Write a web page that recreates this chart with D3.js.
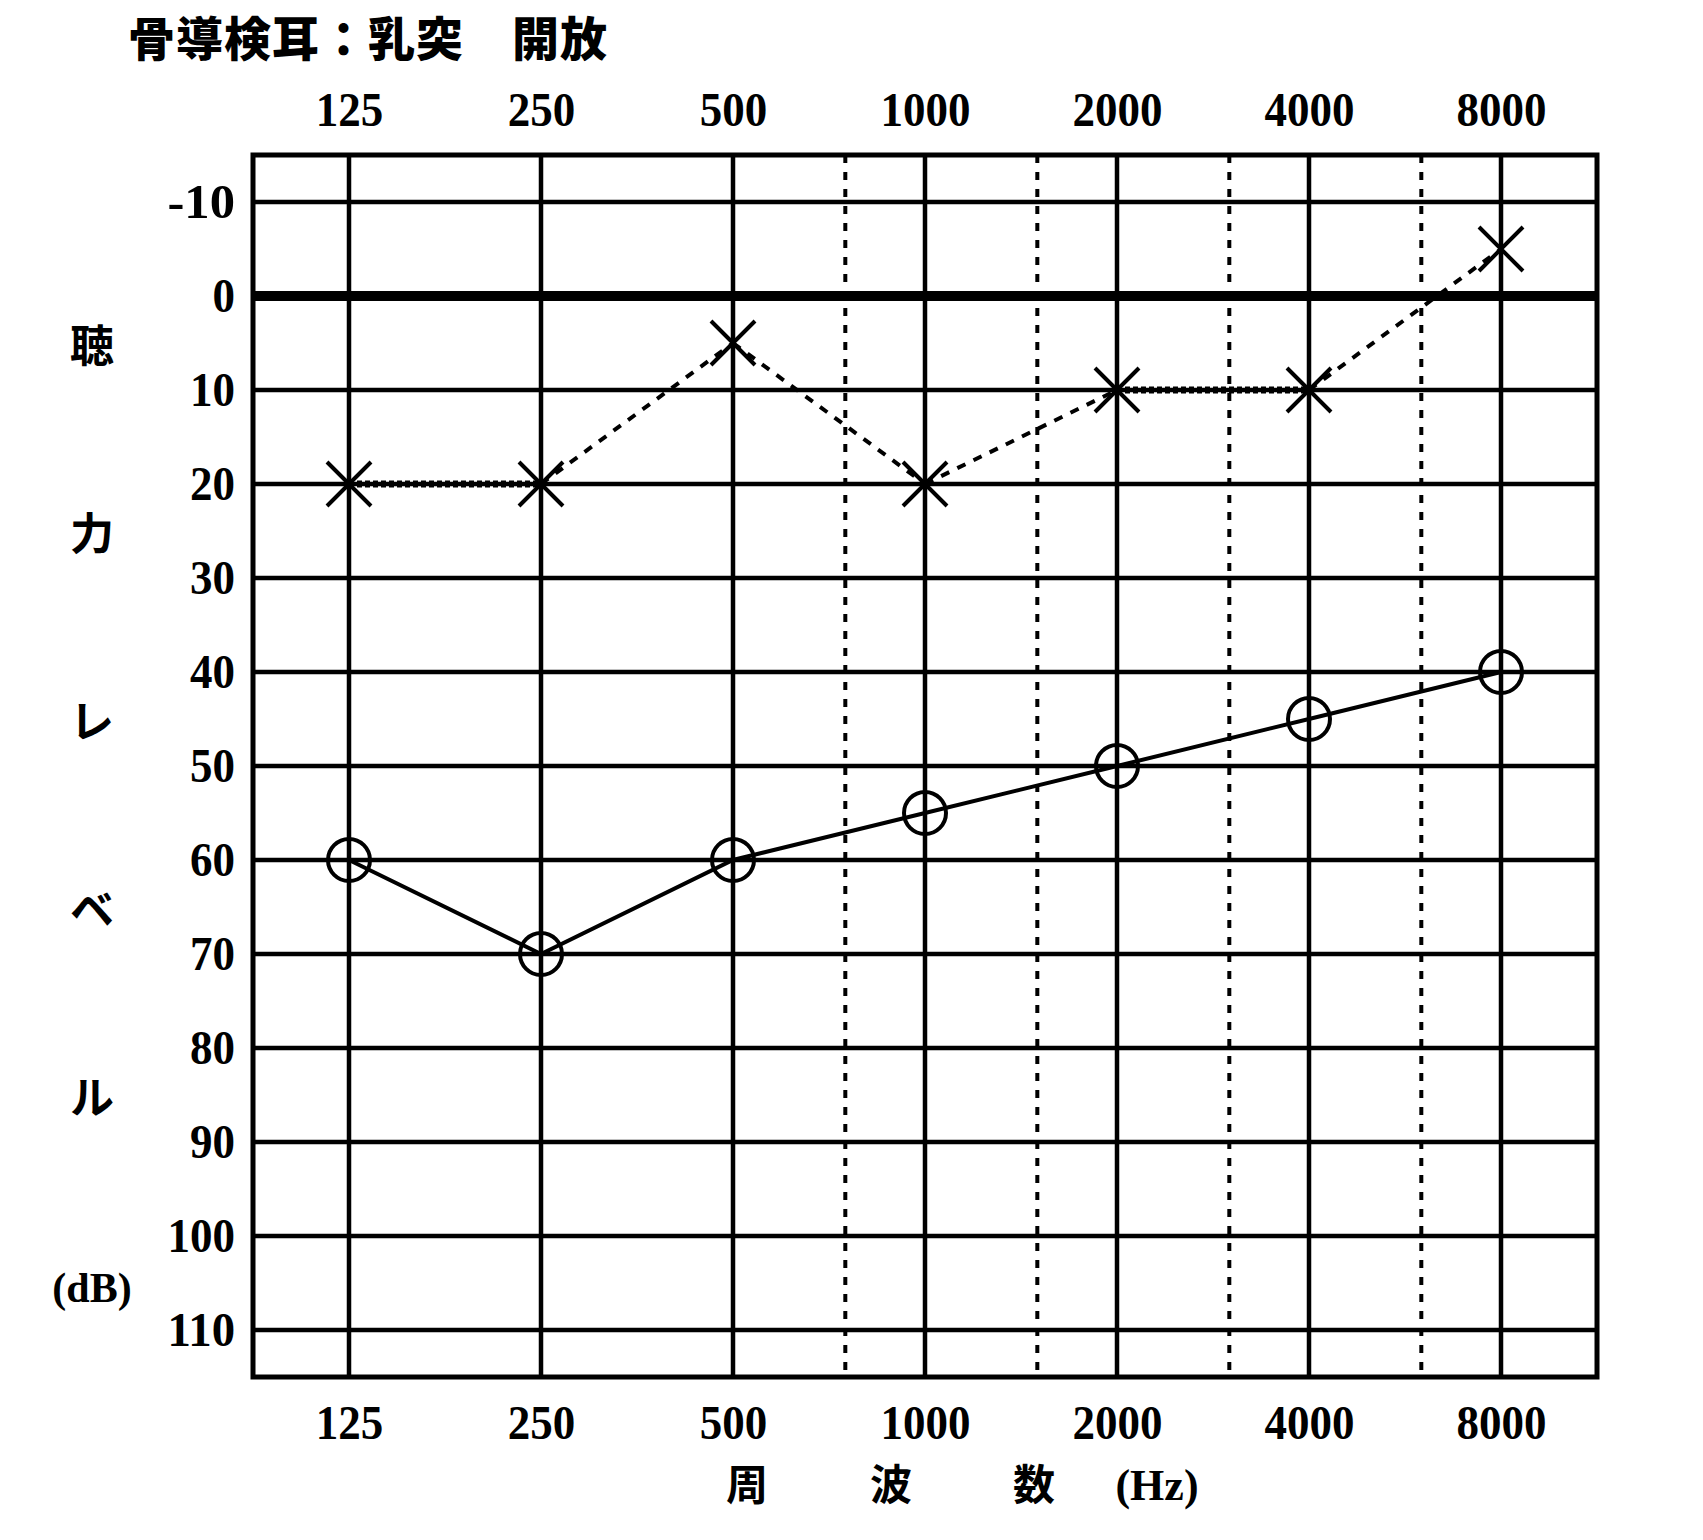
<!DOCTYPE html>
<html><head><meta charset="utf-8">
<script src="https://cdn.jsdelivr.net/npm/d3@7"></script>
<style>
html,body{margin:0;padding:0;background:#fff;}
svg{display:block;}
</style></head>
<body>
<svg id="c" width="1703" height="1540"></svg>
<script>
const freqs = [125, 250, 500, 1000, 2000, 4000, 8000];
const freqLabels = ["125", "250", "500", "1000", "2000", "4000", "8000"];
const halfOctaves = [750, 1500, 3000, 6000];
const levelTicks = [-10, 0, 10, 20, 30, 40, 50, 60, 70, 80, 90, 100, 110];
const boneLevels = [20, 20, 5, 20, 10, 10, -5];   // × bone conduction
const airLevels = [60, 70, 60, 55, 50, 45, 40];   // ○ air conduction
const titleText = "骨導検耳：乳突　開放";
const yTitleChars = ["聴", "力", "レ", "ベ", "ル", "(dB)"];
const xTitleParts = ["周", "波", "数", "(Hz)"];

const svg = d3.select("#c");
const L = 253, R = 1597, T = 155, B = 1377;
const x = d3.scaleLog().domain([125 / Math.SQRT2, 8000 * Math.SQRT2]).range([L, R]);
const y = d3.scaleLinear().domain([-15, 115]).range([T, B]);
const numFont = "'Liberation Serif','DejaVu Serif',serif";
const jpFont = "'Noto Sans CJK JP','Noto Sans CJK SC',sans-serif";

// dotted half-octave lines
svg.append("g").selectAll("line").data(halfOctaves).join("line")
  .attr("x1", d => x(d)).attr("x2", d => x(d)).attr("y1", T).attr("y2", B)
  .attr("stroke", "#000").attr("stroke-width", 4).attr("stroke-dasharray", "8,9");

// horizontal grid
svg.append("g").selectAll("line").data(levelTicks).join("line")
  .attr("x1", L).attr("x2", R).attr("y1", d => y(d)).attr("y2", d => y(d))
  .attr("stroke", "#000").attr("stroke-width", d => d === 0 ? 10 : 4.5);

// vertical grid
svg.append("g").selectAll("line").data(freqs).join("line")
  .attr("x1", d => x(d)).attr("x2", d => x(d)).attr("y1", T).attr("y2", B)
  .attr("stroke", "#000").attr("stroke-width", 4.5);

// frame
svg.append("rect").attr("x", L).attr("y", T).attr("width", R - L).attr("height", B - T)
  .attr("fill", "none").attr("stroke", "#000").attr("stroke-width", 5);

// axes (labels only)
function styleNums(g) {
  g.select(".domain").remove();
  g.selectAll("text").attr("font-family", numFont).attr("font-size", 48)
    .attr("font-weight", 700)
    .attr("fill", "#000").attr("lengthAdjust", "spacingAndGlyphs")
    .attr("textLength", function () { return this.textContent.length * 22.5; });
}
svg.append("g").attr("transform", `translate(0,${T})`)
  .call(d3.axisTop(x).tickValues(freqs).tickFormat((d, i) => freqLabels[i]).tickSize(0).tickPadding(29))
  .call(styleNums);
svg.append("g").attr("transform", `translate(0,${B})`)
  .call(d3.axisBottom(x).tickValues(freqs).tickFormat((d, i) => freqLabels[i]).tickSize(0).tickPadding(28))
  .call(styleNums);
svg.append("g").attr("transform", `translate(${L},0)`)
  .call(d3.axisLeft(y).tickValues(levelTicks).tickFormat(d => String(d)).tickSize(0).tickPadding(18))
  .call(styleNums);

// bone conduction dashed connections
for (let i = 0; i < freqs.length - 1; i++) {
  const flat = boneLevels[i] === boneLevels[i + 1];
  svg.append("line")
    .attr("x1", x(freqs[i])).attr("y1", y(boneLevels[i]))
    .attr("x2", x(freqs[i + 1])).attr("y2", y(boneLevels[i + 1]))
    .attr("stroke", "#000").attr("stroke-width", flat ? 7 : 4)
    .attr("stroke-dasharray", flat ? "5,3" : "9,9");
}
// air conduction solid line
svg.append("path")
  .datum(freqs.map((f, i) => [f, airLevels[i]]))
  .attr("d", d3.line().x(d => x(d[0])).y(d => y(d[1])))
  .attr("fill", "none").attr("stroke", "#000").attr("stroke-width", 4);

// markers
svg.append("g").selectAll("circle").data(airLevels).join("circle")
  .attr("cx", (d, i) => x(freqs[i])).attr("cy", d => y(d)).attr("r", 21)
  .attr("fill", "none").attr("stroke", "#000").attr("stroke-width", 4);
const s = 22;
svg.append("g").selectAll("path").data(boneLevels).join("path")
  .attr("d", (d, i) => {
    const cx = x(freqs[i]), cy = y(d);
    return `M${cx - s},${cy - s}L${cx + s},${cy + s}M${cx - s},${cy + s}L${cx + s},${cy - s}`;
  })
  .attr("stroke", "#000").attr("stroke-width", 4);

// title
svg.append("text").attr("x", 128).attr("y", 56).text(titleText)
  .attr("font-family", jpFont).attr("font-weight", 900).attr("font-size", 47)
  .attr("letter-spacing", 1);

// y title (vertical)
svg.append("g").selectAll("text").data(yTitleChars).join("text")
  .attr("x", 92).attr("y", (d, i) => 362 + i * 188)
  .attr("text-anchor", "middle")
  .attr("font-family", (d) => d.length > 1 ? numFont : jpFont)
  .attr("font-weight", 700)
  .attr("font-size", d => d.length > 1 ? 42 : 44)
  .text(d => d);

// x title
const xTitleX = [747, 891, 1034, 1157];
svg.append("g").selectAll("text").data(xTitleParts).join("text")
  .attr("x", (d, i) => xTitleX[i]).attr("y", 1500)
  .attr("text-anchor", "middle")
  .attr("font-family", d => d.length > 1 ? numFont : jpFont)
  .attr("font-weight", 700).attr("font-size", d => d.length > 1 ? 44 : 42)
  .text(d => d);
</script>
</body></html>
